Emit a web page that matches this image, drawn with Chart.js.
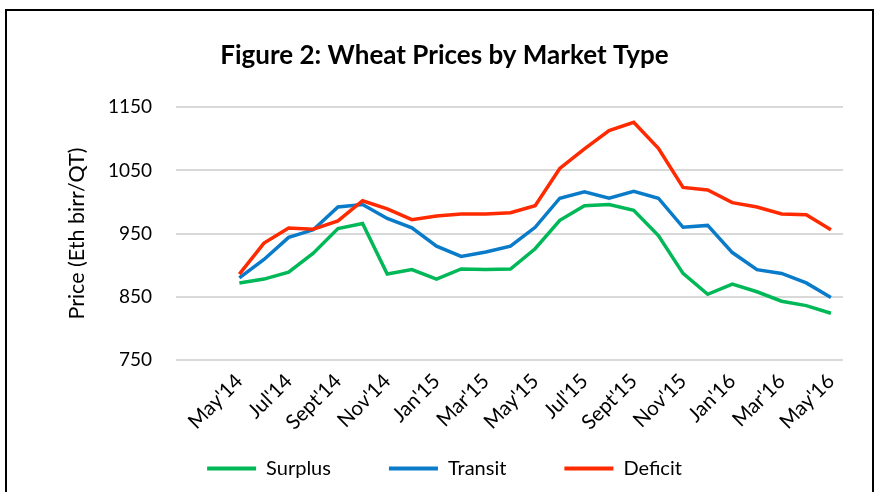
<!DOCTYPE html>
<html>
<head>
<meta charset="utf-8">
<script src="https://cdn.jsdelivr.net/npm/chart.js@4"></script>
<style>
  html, body { margin: 0; padding: 0; background: #fff; }
  #wrap { position: relative; width: 877px; height: 492px; overflow: hidden; }
  #frame { position: absolute; left: 5px; top: 9px; width: 865px; height: 520px; border: 2px solid #000; }
  #box { position: absolute; left: 0; top: 0; width: 877px; height: 492px; }
</style>
</head>
<body>
<div id="wrap">
  <div id="frame"></div>
  <div id="box"><canvas id="myChart"></canvas></div>
</div>
<script>
// Dati (mensili, May'14 - May'16)
var months = ["May'14", "Jun'14", "Jul'14", "Aug'14", "Sept'14", "Oct'14", "Nov'14", "Dec'14",
  "Jan'15", "Feb'15", "Mar'15", "Apr'15", "May'15", "Jun'15", "Jul'15", "Aug'15", "Sept'15",
  "Oct'15", "Nov'15", "Dec'15", "Jan'16", "Feb'16", "Mar'16", "Apr'16", "May'16"];
var surplus = [872, 878, 889, 919, 958, 966, 886, 893, 878, 894, 893, 894, 926,
  971, 994, 996, 987, 947, 887, 854, 870, 858, 843, 836, 824];
var transit = [880, 909, 944, 956, 992, 996, 974, 959, 930, 914, 921, 930, 960,
  1006, 1016, 1006, 1017, 1006, 960, 963, 920, 893, 887, 872, 849];
var deficit = [886, 935, 959, 957, 970, 1002, 989, 972, 978, 981, 981, 983, 994,
  1053, 1084, 1113, 1126, 1085, 1023, 1019, 999, 992, 981, 980, 956];
var yTicks = [750, 850, 950, 1050, 1150];
// etichette mostrate solo ogni due mesi
var shownMonths = [0, 2, 4, 6, 8, 10, 12, 14, 16, 18, 20, 22, 24];

function toPoints(values) {
  return values.map(function (v, i) { return { x: i, y: v }; });
}

// le etichette ruotate escono dall'asse: allargo l'area di clip dell'asse x
var extendXAxis = {
  id: 'extendXAxis',
  afterLayout: function (chart) {
    chart.scales.x.bottom = chart.height;
  }
};

Chart.defaults.font.family = "Lato, 'Open Sans', sans-serif";
Chart.defaults.color = "#000";

var ctx = document.getElementById("myChart").getContext("2d");
const priceChart = new Chart(ctx, {
  type: 'line',
  data: {
    datasets: [
      { label: "Surplus", data: toPoints(surplus), borderColor: "#00b857", backgroundColor: "#00b857", order: 3 },
      { label: "Transit", data: toPoints(transit), borderColor: "#0a7bc9", backgroundColor: "#0a7bc9", order: 2 },
      { label: "Deficit", data: toPoints(deficit), borderColor: "#ff2a00", backgroundColor: "#ff2a00", order: 1 }
    ]
  },
  plugins: [extendXAxis],
  options: {
    responsive: true,
    maintainAspectRatio: false,
    animation: false,
    layout: { padding: { left: 46, right: 34, top: 0, bottom: 3.5 } },
    elements: {
      line: { borderWidth: 3.5, tension: 0 },
      point: { radius: 0 }
    },
    plugins: {
      title: {
        display: true,
        text: "Figure 2: Wheat Prices by Market Type",
        font: { size: 26, weight: 'bold' },
        padding: { top: 40, bottom: 36 }
      },
      legend: {
        position: 'bottom',
        labels: {
          boxWidth: 49,
          boxHeight: 4,
          padding: 58,
          font: { size: 20 },
          sort: function (a, b) { return a.datasetIndex - b.datasetIndex; },
          generateLabels: function (chart) {
            return Chart.defaults.plugins.legend.labels.generateLabels(chart).map(function (l) {
              l.lineWidth = 0;
              return l;
            });
          }
        }
      },
      tooltip: { enabled: false }
    },
    scales: {
      x: {
        type: 'linear',
        min: -2.57,
        max: 24.49,
        grid: { display: false },
        border: { display: false },
        afterBuildTicks: function (s) {
          s.ticks = shownMonths.map(function (v) { return { value: v }; });
        },
        afterFit: function (s) { s.height = 40.5; },
        ticks: {
          autoSkip: false,
          maxRotation: 45,
          minRotation: 45,
          padding: 1,
          font: { size: 20.5 },
          callback: function (v) { return months[v]; }
        }
      },
      y: {
        min: 750,
        max: 1150,
        afterBuildTicks: function (s) {
          s.ticks = yTicks.map(function (v) { return { value: v }; });
        },
        afterFit: function (s) { s.width = 176 - 46; },
        grid: { color: "#d9d9d9", lineWidth: 2, drawTicks: false },
        border: { display: false },
        ticks: {
          padding: 24,
          font: { size: 19 },
          callback: function (v) { return String(v); }
        },
        title: {
          display: true,
          text: "Price (Eth birr/QT)",
          font: { size: 21.5 },
          padding: { top: 18, bottom: 0 }
        }
      }
    }
  }
});
</script>
</body>
</html>
